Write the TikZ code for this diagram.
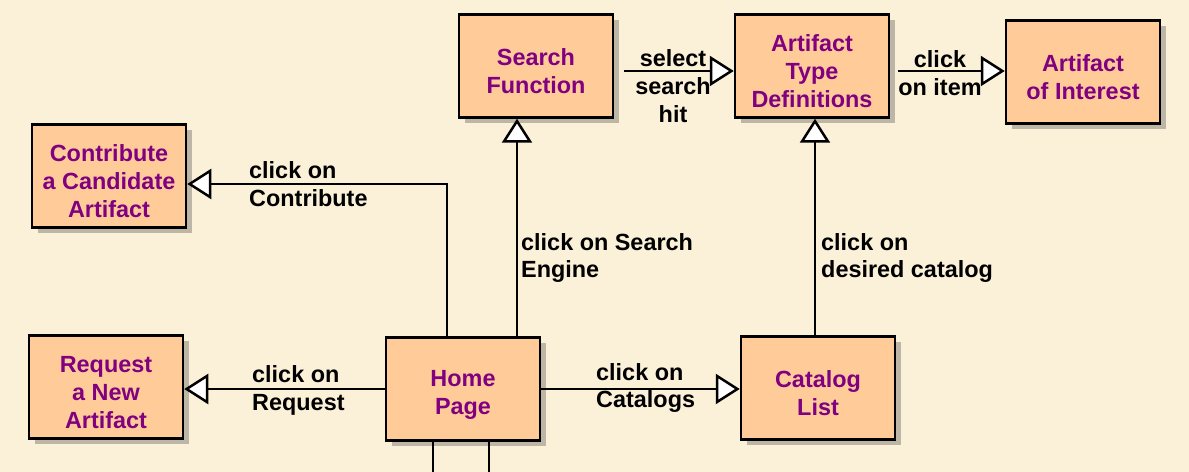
\documentclass[tikz,border=0pt]{standalone}
\usepackage{fontspec}
\setmainfont{Liberation Sans}
\usetikzlibrary{arrows.meta,shadows}
\definecolor{parchment}{HTML}{FBF0D8}
\definecolor{boxfill}{HTML}{FFCC99}
\definecolor{boxtext}{HTML}{800080}
\newcommand\toplift{\rule{0pt}{28bp}}
\begin{document}
\begin{tikzpicture}[x=1bp, y=-1bp,
  every node/.style={font=\fontsize{23.5}{28}\selectfont\bfseries},
  page/.style={draw=black, line width=2.5bp, fill=boxfill, text=boxtext, align=center,
    minimum width=154bp, minimum height=103bp, inner sep=0pt,
    drop shadow={shadow xshift=6bp, shadow yshift=-6bp, opacity=0.35, fill=black!70}},
  lbl/.style={align=left, inner sep=0pt, anchor=west},
  link/.style={line width=2.5bp, -{Triangle[length=24bp, width=30bp, fill=white]}}]
\fill[parchment] (0,0) rectangle (1189,472);
\useasboundingbox (0,0) rectangle (1189,472);
% pages
\node[page] (search)  at (536,66)  {\toplift Search\\Function};
\node[page] (types)   at (812,66)  {\toplift Artifact\\Type\\Definitions};
\node[page] (item)    at (1083,72) {\toplift Artifact\\of Interest};
\node[page] (contrib) at (109,176) {\toplift Contribute\\a Candidate\\Artifact};
\node[page] (request) at (106,387) {\toplift Request\\a New\\Artifact};
\node[page] (home)    at (463,389) {\toplift Home\\Page};
\node[page] (catalog) at (818,388) {\toplift Catalog\\List};
\coordinate (outA) at (433,472);
\coordinate (outB) at (489,472);
% links
\draw[link] (home.north -| 447,0) |- (contrib.east |- 0,184);
\draw[link] (home.north -| 517,0) -- (search.south -| 517,0);
\draw[link] (home.west |- 0,389) -- (request.east |- 0,389);
\draw[link] (home.east |- 0,389) -- (catalog.west |- 0,389);
\draw[link] (catalog.north -| 815,0) -- (types.south -| 815,0);
\draw[link, shorten <=10bp] (search.east |- 0,71) -- (types.west |- 0,71);
\draw[link, shorten <=8bp] (types.east |- 0,71) -- (item.west |- 0,71);
\draw[line width=2.5bp] (home.south -| outA) -- (outA);
\draw[line width=2.5bp] (home.south -| outB) -- (outB);
% labels
\node[lbl] (lcontrib) at (249,184) {click on\\Contribute};
\node[lbl] (lsearch)  at (521,258) {click on Search\\Engine};
\node[lbl] (lrequest) at (252,390) {click on\\Request};
\node[lbl] (lcatalog) at (596,388) {click on\\Catalogs};
\node[lbl] (ltypes)   at (821,258) {click on\\desired catalog};
\node[align=center, inner sep=0pt] (lhit)  at (673,86) {select\\search\\hit};
\node[align=center, inner sep=0pt] (litem) at (940,73) {click\\on item};
\end{tikzpicture}
\end{document}
